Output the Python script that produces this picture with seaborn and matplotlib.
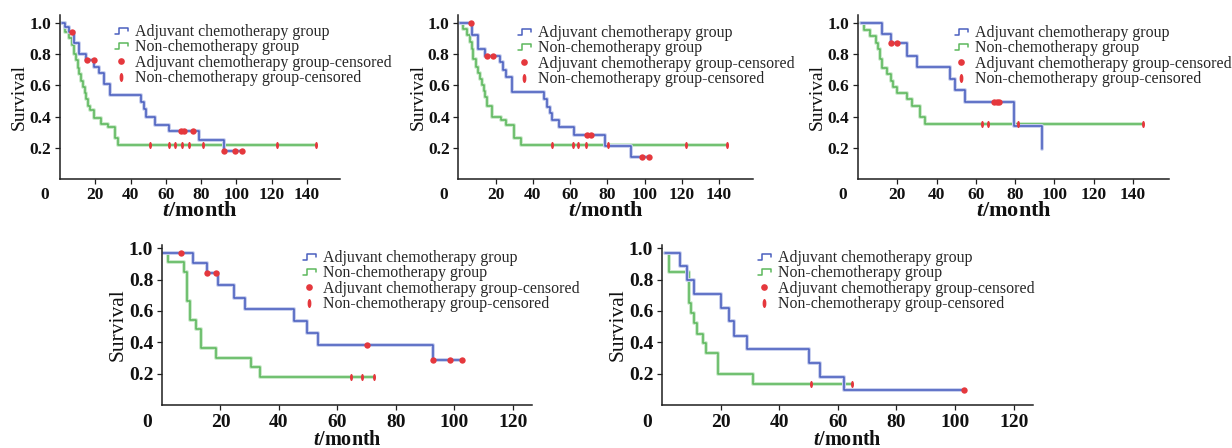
import numpy as np
import pandas as pd
import matplotlib
matplotlib.use("Agg")
import matplotlib.pyplot as plt
import seaborn as sns
from matplotlib.lines import Line2D
from matplotlib.legend_handler import HandlerBase
from matplotlib.path import Path
from matplotlib.markers import MarkerStyle
from matplotlib.transforms import Affine2D, ScaledTranslation
import matplotlib.patheffects as pe

# ---------------- data (months, survival) ----------------
# Panel 1
A1_t = [1, 3, 5, 8, 11, 14.5, 19.5, 22, 25, 28.5, 46, 47.5, 48.7, 54, 62, 79, 93]
A1_s = [1.0, 0.97, 0.94, 0.87, 0.80, 0.76, 0.72, 0.68, 0.61, 0.54, 0.49, 0.45, 0.40, 0.345, 0.31, 0.25, 0.18]
A1_c = [6.8, 15.5, 19, 68.5, 70.5, 75.5, 93, 99, 103]
N1_t = [1, 3, 5, 7, 8, 9, 10, 11, 12, 13, 14, 15, 16, 17, 19, 23, 27, 31, 33]
N1_s = [1.0, 0.94, 0.90, 0.86, 0.80, 0.76, 0.71, 0.67, 0.63, 0.59, 0.55, 0.51, 0.47, 0.44, 0.39, 0.355, 0.335, 0.26, 0.22]
N1_c = [51, 62, 65, 69, 73, 81, 123, 145]
# Panel 2
A2_t = [1, 7, 10.5, 14, 22.5, 24, 25.5, 28.5, 46, 47.5, 49, 50.5, 54, 62, 79, 92.5]
A2_s = [1.0, 0.92, 0.83, 0.79, 0.75, 0.70, 0.65, 0.56, 0.51, 0.46, 0.42, 0.375, 0.33, 0.28, 0.21, 0.14]
A2_c = [6.5, 15.5, 18.5, 69, 71, 98.5, 102.5]
N2_t = [1, 2.5, 4.5, 6, 7, 8, 9.5, 10.5, 11.5, 12.5, 13.5, 14.5, 15.5, 18, 23, 25.7, 30, 33.8]
N2_s = [1.0, 0.96, 0.92, 0.88, 0.83, 0.77, 0.72, 0.68, 0.64, 0.60, 0.565, 0.525, 0.47, 0.40, 0.375, 0.345, 0.26, 0.22]
N2_c = [50.5, 61.5, 64.5, 68.5, 80.5, 122.5, 144.5]
# Panel 3
A3_t = [1.5, 12, 17, 25, 30, 47, 49.5, 54.5, 79.5, 93.7]
A3_s = [1.0, 0.93, 0.87, 0.79, 0.715, 0.64, 0.57, 0.49, 0.34, 0.19]
A3_c = [17, 20, 69.5, 71, 72]
N3_t = [1.5, 3, 6, 9, 10, 11, 12, 15, 17, 18, 20, 25, 27.5, 31.5, 34]
N3_s = [1.0, 0.957, 0.914, 0.87, 0.83, 0.77, 0.71, 0.675, 0.63, 0.59, 0.55, 0.515, 0.47, 0.40, 0.35]
N3_c = [63, 66, 81.5, 145]
# Panel 4
A4_t = [0.5, 10.5, 15.5, 19, 24.5, 28.5, 45, 49.5, 53.5, 92.5]
A4_s = [0.97, 0.905, 0.84, 0.765, 0.685, 0.61, 0.535, 0.46, 0.38, 0.285]
A4_c = [6.5, 15.5, 18.5, 70, 92.5, 98.5, 102.5]
N4_t = [0.5, 2, 7.5, 8.5, 9.5, 11.5, 13.5, 18.5, 30.5, 33.5]
N4_s = [0.97, 0.91, 0.85, 0.665, 0.545, 0.485, 0.365, 0.30, 0.24, 0.18]
N4_c = [64.5, 68.5, 72.5]
# Panel 5
A5_t = [1, 6, 8.5, 11, 20, 23, 24.5, 29, 50, 54, 62]
A5_s = [0.97, 0.885, 0.795, 0.71, 0.62, 0.535, 0.44, 0.36, 0.27, 0.18, 0.095]
A5_c = [103]
N5_t = [1, 2.5, 9.3, 10, 11, 12, 14, 15, 19, 31]
N5_s = [0.97, 0.845, 0.65, 0.585, 0.52, 0.455, 0.395, 0.33, 0.20, 0.135]
N5_c = [51, 65]

yticks = [0.2, 0.4, 0.6, 0.8, 1.0]
xticks_top = [0, 20, 40, 60, 80, 100, 120, 140]
xticks_bottom = [0, 20, 40, 60, 80, 100, 120]
legend_labels = ["Adjuvant chemotherapy group", "Non-chemotherapy group",
                 "Adjuvant chemotherapy group-censored", "Non-chemotherapy group-censored"]

# ---------------- style ----------------
sns.set_theme(style="ticks")
plt.rcParams["font.family"] = ["Liberation Serif", "DejaVu Serif"]
plt.rcParams["mathtext.fontset"] = "custom"
plt.rcParams["mathtext.it"] = "Liberation Serif:italic:bold"
plt.rcParams["mathtext.rm"] = "Liberation Serif:bold"

BLUE = "#4a5fbf"
BLUE_HALO = "#c8cfee"
GREEN = "#5cb85c"
GREEN_HALO = "#cbe9cb"
RED = "#e5383d"
AX_COL = "#1e1e1e"

W, H = 1232, 448
fig = plt.figure(figsize=(W / 100, H / 100), dpi=100)

ellipse = MarkerStyle(Path.unit_circle().transformed(Affine2D().scale(0.42, 1.0)))


def px_rect(l, r, t, b):
    return [l / W, 1 - b / H, (r - l) / W, (b - t) / H]


def step_frame(t, s, c, group):
    tt = list(t)
    ss = list(s)
    if c and max(c) > tt[-1]:
        tt.append(max(c))
        ss.append(ss[-1])
    return pd.DataFrame({"t": tt, "s": ss, "group": group})


def censor_frame(t, s, c, group):
    t = np.asarray(t)
    s = np.asarray(s)
    idx = np.searchsorted(t, np.asarray(c, dtype=float), side="right") - 1
    return pd.DataFrame({"t": c, "s": s[idx], "group": group})


class StepHandler(HandlerBase):
    def create_artists(self, legend, orig_handle, xdescent, ydescent, width, height, fontsize, trans):
        x0, y0 = -xdescent, -ydescent
        xs = np.array([0.0, 0.3, 0.3, 1.0, 1.0]) * width + x0
        ys = np.array([0.22, 0.22, 0.72, 0.72, 0.45]) * height + y0
        ln = Line2D(xs, ys, color=orig_handle.get_color(), lw=1.1)
        ln.set_transform(trans)
        return [ln]


panels = [
    dict(A=(A1_t, A1_s, A1_c), N=(N1_t, N1_s, N1_c), rect=px_rect(60, 340, 15, 179),
         xmax=158.7, ytop=1.05, xt=xticks_top, leg=(115, 24), big=False),
    dict(A=(A2_t, A2_s, A2_c), N=(N2_t, N2_s, N2_c), rect=px_rect(458.5, 753, 15, 179),
         xmax=158.3, ytop=1.05, xt=xticks_top, leg=(518, 25), big=False),
    dict(A=(A3_t, A3_s, A3_c), N=(N3_t, N3_s, N3_c), rect=px_rect(858, 1169, 15, 179),
         xmax=158.4, ytop=1.05, xt=xticks_top, leg=(955, 25), big=False),
    dict(A=(A4_t, A4_s, A4_c), N=(N4_t, N4_s, N4_c), rect=px_rect(162, 532, 245, 405),
         xmax=126.5, ytop=1.02, xt=xticks_bottom, leg=(303, 250), big=True),
    dict(A=(A5_t, A5_s, A5_c), N=(N5_t, N5_s, N5_c), rect=px_rect(662, 1033, 245, 405),
         xmax=126.6, ytop=1.02, xt=xticks_bottom, leg=(758, 250), big=True),
]

for p in panels:
    ax = fig.add_axes(p["rect"])
    big = p["big"]
    tick_fs = 14 if big else 12.5
    ylab_fs = 15.5 if big else 14
    xlab_fs = 14.5 if big else 16

    for key, col, halo in (("N", GREEN, GREEN_HALO), ("A", BLUE, BLUE_HALO)):
        t, s, c = p[key]
        df = step_frame(t, s, c, key)
        sns.lineplot(data=df, x="t", y="s", ax=ax, color=col, drawstyle="steps-post",
                     estimator=None, sort=False, lw=1.15, legend=False,
                     path_effects=[pe.Stroke(linewidth=2.8, foreground=halo), pe.Normal()])
    # censor marks
    t, s, c = p["N"]
    sns.scatterplot(data=censor_frame(t, s, c, "N"), x="t", y="s", ax=ax, color=RED,
                    marker=ellipse, s=26, linewidth=0, legend=False, zorder=5)
    t, s, c = p["A"]
    sns.scatterplot(data=censor_frame(t, s, c, "A"), x="t", y="s", ax=ax, color=RED,
                    marker="o", s=21, linewidth=0, legend=False, zorder=5)

    ax.set_xlim(0, p["xmax"])
    ax.set_ylim(0, p["ytop"])
    ax.set_xticks(p["xt"])
    ax.set_xticklabels([str(v) for v in p["xt"]])
    ax.set_yticks(yticks)
    ax.set_yticklabels([f"{v:.1f}" for v in yticks])
    sns.despine(ax=ax)
    for sp in ("left", "bottom"):
        ax.spines[sp].set_linewidth(1.1)
        ax.spines[sp].set_color(AX_COL)
    ax.tick_params(axis="both", direction="out", length=3.3, width=0.9, color=AX_COL,
                   labelsize=tick_fs, labelcolor="#111111")
    ax.tick_params(axis="x", pad=3.0 if big else 2.2)
    ax.tick_params(axis="y", pad=3.0)
    for lab in ax.get_xticklabels() + ax.get_yticklabels():
        lab.set_fontweight("bold")
    # origin "0" shifted left, no tick mark
    ax.xaxis.get_major_ticks()[0].tick1line.set_visible(False)
    lab0 = ax.get_xticklabels()[0]
    lab0.set_transform(lab0.get_transform() + ScaledTranslation(-15 / 100, 0, fig.dpi_scale_trans))

    ax.set_ylabel("Survival", fontsize=ylab_fs, labelpad=1.0, color="#111111")
    ax.set_xlabel("$t$/month", fontsize=xlab_fs, fontweight="bold",
                  labelpad=-0.3 if big else -1.5, color="#111111")
    ax.grid(False)

    handles = [Line2D([], [], color=BLUE), Line2D([], [], color=GREEN),
               Line2D([], [], color=RED, marker="o", linestyle="none", markersize=4.8, markeredgewidth=0),
               Line2D([], [], color=RED, marker=ellipse, linestyle="none", markersize=6.5, markeredgewidth=0)]
    lx, ly = p["leg"]
    ax.legend(handles, legend_labels, loc="upper left", bbox_to_anchor=(lx / W, 1 - ly / H),
              bbox_transform=fig.transFigure, frameon=False, fontsize=11.4, borderpad=0,
              borderaxespad=0, handlelength=0.82, handletextpad=0.45, labelspacing=-0.04,
              handler_map={handles[0]: StepHandler(), handles[1]: StepHandler()})

fig.savefig("out.png", dpi=100)
